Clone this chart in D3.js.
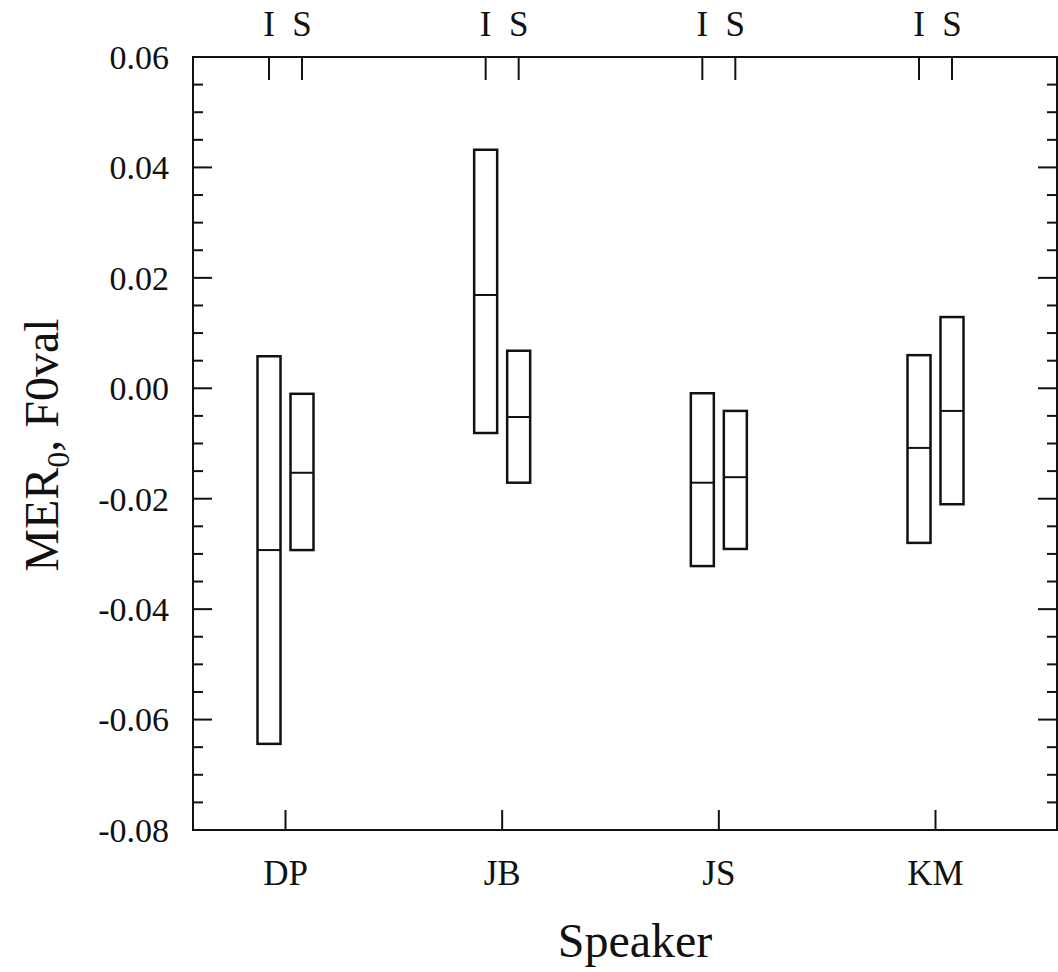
<!DOCTYPE html>
<html>
<head>
<meta charset="utf-8">
<script src="https://cdn.jsdelivr.net/npm/d3@7"></script>
<style>
  body { margin: 0; background: #fff; }
  text { font-family: "Liberation Serif", "DejaVu Serif", serif; fill: #111; }
</style>
</head>
<body>
<div id="root"></div>
<script>
// Data
const speakers = ["DP", "JB", "JS", "KM"];
const groups = ["I", "S"];
const lows    = [[-0.0644, -0.0293], [-0.0081, -0.0171], [-0.0322, -0.0291], [-0.0280, -0.0210]];
const medians = [[-0.0293, -0.0153], [ 0.0169, -0.0052], [-0.0171, -0.0161], [-0.0108, -0.0041]];
const highs   = [[ 0.0058, -0.0010], [ 0.0432,  0.0068], [-0.0009, -0.0041], [ 0.0060,  0.0129]];
const yTicks = [0.06, 0.04, 0.02, 0.00, -0.02, -0.04, -0.06, -0.08];

const width = 1058, height = 972;
const plot = { left: 193, right: 1057, top: 57, bottom: 830 };

const svg = d3.select("#root").append("svg")
  .attr("width", width)
  .attr("height", height);

const y = d3.scaleLinear().domain([-0.08, 0.06]).range([plot.bottom, plot.top]);
const x = d3.scalePoint().domain(speakers).range([285, 935]);
const sub = d3.scalePoint().domain(groups).range([-16, 17]);

const rows = [];
speakers.forEach((s, i) => {
  groups.forEach((g, j) => {
    rows.push({ speaker: s, group: g, lo: lows[i][j], med: medians[i][j], hi: highs[i][j] });
  });
});

// frame
svg.append("rect")
  .attr("x", plot.left).attr("y", plot.top)
  .attr("width", plot.right - plot.left)
  .attr("height", plot.bottom - plot.top)
  .attr("fill", "none").attr("stroke", "#111").attr("stroke-width", 2);

// y ticks, left and right (inward)
const minor = d3.range(-0.08, 0.0601, 0.005).map(v => +v.toFixed(3));
const isMajor = d => yTicks.some(t => Math.abs(t - d) < 1e-6);
const fmt = d => (d < 0 ? "-" : "") + Math.abs(d).toFixed(2);

const leftAxis = svg.append("g").attr("transform", `translate(${plot.left},0)`);
leftAxis.selectAll("line").data(minor).enter().append("line")
  .attr("x1", 0)
  .attr("x2", d => isMajor(d) ? 19 : 10)
  .attr("y1", d => y(d)).attr("y2", d => y(d))
  .attr("stroke", "#111").attr("stroke-width", 2);
leftAxis.selectAll("text").data(yTicks).enter().append("text")
  .attr("x", -24).attr("y", d => y(d)).attr("dy", "0.35em")
  .attr("text-anchor", "end").attr("font-size", 34)
  .text(fmt);

const rightAxis = svg.append("g").attr("transform", `translate(${plot.right},0)`);
rightAxis.selectAll("line").data(minor).enter().append("line")
  .attr("x1", 0)
  .attr("x2", d => isMajor(d) ? -19 : -10)
  .attr("y1", d => y(d)).attr("y2", d => y(d))
  .attr("stroke", "#111").attr("stroke-width", 2);

// bottom axis
const bottomAxis = svg.append("g").attr("transform", `translate(0,${plot.bottom})`);
bottomAxis.call(d3.axisBottom(x).tickSizeInner(-20).tickSizeOuter(0).tickPadding(30));
bottomAxis.select(".domain").remove();
bottomAxis.selectAll("line").attr("stroke", "#111").attr("stroke-width", 2);
bottomAxis.selectAll("text").attr("font-size", 35)
  .attr("font-family", "Liberation Serif, serif").attr("fill", "#111");

// top ticks I / S
const topAxis = svg.append("g").attr("transform", `translate(0,${plot.top})`);
rows.forEach(r => {
  const cx = x(r.speaker) + sub(r.group);
  topAxis.append("line")
    .attr("x1", cx).attr("x2", cx).attr("y1", 0).attr("y2", 23)
    .attr("stroke", "#111").attr("stroke-width", 2);
  topAxis.append("text")
    .attr("x", cx).attr("y", -21)
    .attr("text-anchor", "middle").attr("font-size", 35)
    .text(r.group);
});

// boxes
const boxW = 23;
const boxes = svg.append("g");
boxes.selectAll("rect").data(rows).enter().append("rect")
  .attr("x", d => x(d.speaker) + sub(d.group) - boxW / 2)
  .attr("y", d => y(d.hi))
  .attr("width", boxW)
  .attr("height", d => y(d.lo) - y(d.hi))
  .attr("fill", "none").attr("stroke", "#111").attr("stroke-width", 2.5);
boxes.selectAll("line").data(rows).enter().append("line")
  .attr("x1", d => x(d.speaker) + sub(d.group) - boxW / 2)
  .attr("x2", d => x(d.speaker) + sub(d.group) + boxW / 2)
  .attr("y1", d => y(d.med)).attr("y2", d => y(d.med))
  .attr("stroke", "#111").attr("stroke-width", 2);

// axis titles
svg.append("text")
  .attr("x", 635).attr("y", 957)
  .attr("text-anchor", "middle").attr("font-size", 48)
  .text("Speaker");

const yl = svg.append("text")
  .attr("transform", "translate(58,445) rotate(-90)")
  .attr("text-anchor", "middle").attr("font-size", 48);
yl.append("tspan").text("MER");
yl.append("tspan").attr("font-size", 32).attr("dy", 11).text("0");
yl.append("tspan").attr("dy", -11).text(", F0val");
</script>
</body>
</html>
